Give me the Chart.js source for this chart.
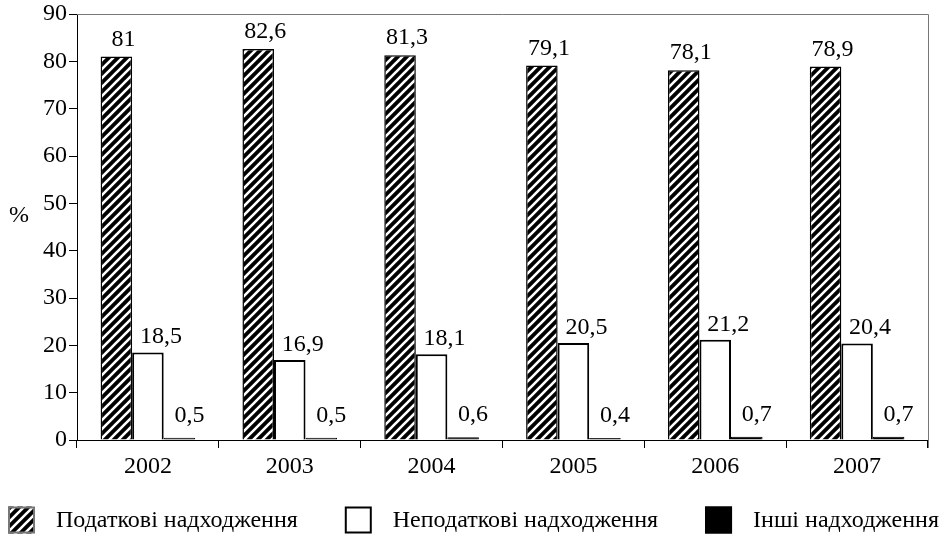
<!DOCTYPE html>
<html>
<head>
<meta charset="utf-8">
<script src="https://cdn.jsdelivr.net/npm/chart.js@4/dist/chart.umd.min.js"></script>
<style>
  html, body { margin: 0; padding: 0; background: #fff; }
</style>
</head>
<body>
<canvas id="myChart" width="945" height="540"></canvas>
<script>
const years = ["2002", "2003", "2004", "2005", "2006", "2007"];
const taxIncome = [81, 82.6, 81.3, 79.1, 78.1, 78.9];
const nonTaxIncome = [18.5, 16.9, 18.1, 20.5, 21.2, 20.4];
const otherIncome = [0.5, 0.5, 0.6, 0.4, 0.7, 0.7];
const yTicks = [0, 10, 20, 30, 40, 50, 60, 70, 80, 90];

const font = "'Liberation Serif', 'Times New Roman', serif";
const fontSize = 24;

function makeHatch() {
  const c = document.createElement("canvas");
  c.width = 9;
  c.height = 9;
  const g = c.getContext("2d");
  g.fillStyle = "#000";
  g.fillRect(0, 0, 9, 9);
  g.strokeStyle = "#fff";
  g.lineWidth = 2.6;
  g.beginPath();
  g.moveTo(-4.5, 4.5); g.lineTo(4.5, -4.5);
  g.moveTo(0, 9); g.lineTo(9, 0);
  g.moveTo(4.5, 13.5); g.lineTo(13.5, 4.5);
  g.stroke();
  return g.createPattern(c, "repeat");
}

// value labels, "%" title, top/right frame and the legend row
const extras = {
  id: "extras",
  afterDatasetsDraw(chart) {
    const ctx = chart.ctx;
    const area = chart.chartArea;
    ctx.save();
    ctx.strokeStyle = "#777";
    ctx.lineWidth = 1;
    ctx.beginPath();
    ctx.moveTo(area.left, area.top + 0.5);
    ctx.lineTo(area.right + 0.5, area.top + 0.5);
    ctx.lineTo(area.right + 0.5, area.bottom + 8);
    ctx.stroke();

    ctx.fillStyle = "#000";
    ctx.font = fontSize + "px " + font;
    ctx.textAlign = "center";
    ctx.textBaseline = "alphabetic";
    chart.data.datasets.forEach((ds, i) => {
      const [dx, dy] = ds.labelShift;
      chart.getDatasetMeta(i).data.forEach((bar, j) => {
        ctx.fillText(String(ds.data[j]).replace(".", ","), bar.x + dx, bar.y - dy);
      });
    });

    ctx.textAlign = "left";
    ctx.textBaseline = "middle";
    ctx.fillText("%", 9, chart.scales.y.getPixelForValue(47.4));

    // legend
    const box = 27, gapText = 21, gapItem = 47;
    const items = chart.data.datasets.map((ds) => ({
      ds, w: box + gapText + ctx.measureText(ds.label).width,
    }));
    const total = items.reduce((a, it) => a + it.w, 0) + gapItem * (items.length - 1);
    let x = (chart.width - total) / 2 + 1;
    const yMid = 520;
    items.forEach((it) => {
      const ds = it.ds;
      ctx.fillStyle = ds.backgroundColor;
      ctx.fillRect(x, yMid - box / 2, box, box);
      ctx.strokeStyle = ds.legendBorder;
      ctx.lineWidth = 2;
      ctx.strokeRect(x + 1, yMid - box / 2 + 1, box - 2, box - 2);
      ctx.fillStyle = "#000";
      ctx.fillText(ds.label, x + box + gapText, yMid + 1);
      x += it.w + gapItem;
    });
    ctx.restore();
  },
};

var ctx = document.getElementById("myChart").getContext("2d");
var myChart = new Chart(ctx, {
  type: "bar",
  data: {
    labels: years,
    datasets: [
      {
        label: "Податкові надходження",
        data: taxIncome,
        backgroundColor: makeHatch(),
        borderColor: "#000",
        borderWidth: 1.5,
        legendBorder: "#777",
        labelShift: [7, 11],
      },
      {
        label: "Неподаткові надходження",
        data: nonTaxIncome,
        backgroundColor: "#fff",
        borderColor: "#000",
        borderWidth: 2,
        legendBorder: "#000",
        labelShift: [13, 9],
      },
      {
        label: "Інші надходження",
        data: otherIncome,
        backgroundColor: "#000",
        borderColor: "#000",
        borderWidth: 1,
        legendBorder: "#000",
        labelShift: [10, 16],
      },
    ],
  },
  options: {
    responsive: false,
    maintainAspectRatio: false,
    animation: false,
    layout: { padding: { top: 0, right: 17, bottom: 60, left: 0 } },
    datasets: { bar: { categoryPercentage: 0.667, barPercentage: 1 } },
    scales: {
      x: {
        grid: { drawOnChartArea: false, tickLength: 8, color: "#000", offset: true },
        border: { color: "#000", width: 1 },
        ticks: { color: "#000", font: { family: font, size: fontSize }, padding: 4, maxRotation: 0 },
        afterFit: (s) => { s.height = 40; },
      },
      y: {
        min: 0,
        max: 90,
        afterBuildTicks: (s) => { s.ticks = yTicks.map((v) => ({ value: v })); },
        grid: { drawOnChartArea: false, tickLength: 8, color: "#000" },
        border: { color: "#000", width: 1 },
        ticks: { color: "#000", font: { family: font, size: fontSize }, padding: 2 },
        afterFit: (s) => { s.width = 77; s.paddingTop = 14; },
      },
    },
    plugins: {
      tooltip: { enabled: false },
      legend: { display: false },
    },
  },
  plugins: [extras],
});
</script>
</body>
</html>
